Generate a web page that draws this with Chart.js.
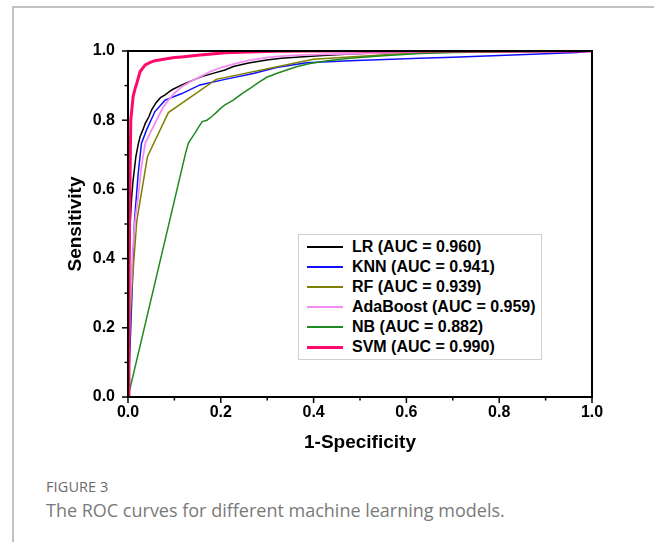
<!DOCTYPE html>
<html>
<head>
<meta charset="utf-8">
<script src="https://cdn.jsdelivr.net/npm/chart.js@4.4.1/dist/chart.umd.min.js"></script>
<style>
  body { margin: 0; background: #fff; }
  #page { position: relative; width: 654px; height: 542px; overflow: hidden; }
  #frame { position: absolute; left: 12px; top: 6px; width: 660px; height: 560px;
           border-top: 2px solid #c2c2c2; border-left: 2px solid #c2c2c2; }
  #chart { position: absolute; left: 0; top: 0; }
  #legend { position: absolute; left: 298px; top: 234px; width: 242px; height: 122px;
            border: 1px solid #d0d0d0; background: #fff; box-sizing: content-box;
            font: bold 16px "Liberation Sans", Arial, sans-serif; color: #000; padding-top: 2px; }
  #legend div { height: 20px; display: flex; align-items: center; }
  #legend span.sw { display: inline-block; width: 36px; margin: 0 9px 0 8px; }
  #caption { position: absolute; left: 46px; top: 477px; font-family: "Open Sans", sans-serif; color: #777; }
  #caption .fig { font-size: 14.5px; letter-spacing: 0.1px; color: #6a6a6a; }
  #caption .txt { font-size: 18px; margin-top: 2px; color: #7a7a7a; }
</style>
</head>
<body>
<div id="page">
  <div id="frame"></div>
  <canvas id="chart" width="654" height="470"></canvas>
  <div id="legend"></div>
  <div id="caption">
    <div class="fig">FIGURE 3</div>
    <div class="txt">The ROC curves for different machine learning models.</div>
  </div>
</div>
<script>
// model names and AUC values
const models = ['LR', 'KNN', 'RF', 'AdaBoost', 'NB', 'SVM'];
const aucs = ['0.960', '0.941', '0.939', '0.959', '0.882', '0.990'];
const colors = ['#000000', '#1010ff', '#808000', '#f58cf2', '#1f8a1f', '#ff0a6c'];
const widths = [1.5, 1.5, 1.5, 1.8, 1.5, 3];

// ROC points (false positive rate / true positive rate)
const lrFpr = [0, 0.001, 0.003, 0.005, 0.008, 0.011, 0.014, 0.017, 0.022, 0.026, 0.032, 0.037, 0.045, 0.051, 0.06, 0.07, 0.08, 0.095, 0.116, 0.135, 0.159, 0.185, 0.209, 0.227, 0.26, 0.299, 0.33, 0.37, 0.42, 0.478, 0.53, 0.586, 0.65, 0.75, 1];
const lrTpr = [0, 0.2, 0.42, 0.51, 0.58, 0.627, 0.66, 0.695, 0.73, 0.752, 0.772, 0.79, 0.81, 0.83, 0.85, 0.865, 0.873, 0.888, 0.902, 0.913, 0.926, 0.936, 0.945, 0.955, 0.965, 0.974, 0.979, 0.983, 0.987, 0.991, 0.994, 0.996, 0.998, 0.999, 1];

const knnFpr = [0, 0.006, 0.01, 0.014, 0.022, 0.029, 0.04, 0.058, 0.08, 0.116, 0.155, 0.209, 0.27, 0.32, 0.385, 0.478, 0.629, 0.7, 0.8, 0.9, 0.967, 1];
const knnTpr = [0, 0.2, 0.35, 0.51, 0.646, 0.733, 0.772, 0.825, 0.858, 0.877, 0.902, 0.918, 0.935, 0.952, 0.966, 0.972, 0.979, 0.982, 0.987, 0.992, 0.996, 1];

const rfFpr = [0, 0.003, 0.008, 0.019, 0.042, 0.087, 0.19, 0.371, 0.4, 0.52, 0.63, 1];
const rfTpr = [0, 0.17, 0.31, 0.51, 0.695, 0.822, 0.918, 0.968, 0.976, 0.986, 0.996, 1];

const adaFpr = [0, 0.004, 0.01, 0.016, 0.022, 0.029, 0.037, 0.045, 0.051, 0.058, 0.065, 0.075, 0.087, 0.1, 0.116, 0.135, 0.159, 0.18, 0.202, 0.227, 0.26, 0.299, 0.33, 0.37, 0.42, 0.478, 0.55, 0.65, 1];
const adaTpr = [0, 0.25, 0.42, 0.52, 0.579, 0.666, 0.733, 0.755, 0.772, 0.79, 0.81, 0.835, 0.858, 0.878, 0.897, 0.912, 0.928, 0.942, 0.953, 0.962, 0.973, 0.981, 0.985, 0.988, 0.99, 0.992, 0.995, 0.998, 1];

const nbFpr = [0, 0.124, 0.13, 0.137, 0.144, 0.152, 0.16, 0.17, 0.18, 0.19, 0.2, 0.209, 0.227, 0.245, 0.263, 0.28, 0.299, 0.32, 0.342, 0.365, 0.392, 0.43, 0.478, 0.55, 0.629, 0.7, 0.8, 1];
const nbTpr = [0, 0.704, 0.733, 0.748, 0.762, 0.78, 0.796, 0.8, 0.81, 0.822, 0.835, 0.844, 0.858, 0.876, 0.892, 0.908, 0.924, 0.935, 0.945, 0.955, 0.964, 0.972, 0.979, 0.986, 0.993, 0.996, 0.998, 1];

const svmFpr = [0, 0.002, 0.004, 0.006, 0.011, 0.015, 0.019, 0.026, 0.037, 0.048, 0.058, 0.08, 0.1, 0.116, 0.15, 0.21, 0.26, 0.32, 0.4, 0.6, 1];
const svmTpr = [0, 0.3, 0.6, 0.8, 0.868, 0.89, 0.907, 0.94, 0.96, 0.967, 0.972, 0.977, 0.981, 0.983, 0.988, 0.995, 0.997, 0.999, 1, 1, 1];

const fprs = [lrFpr, knnFpr, rfFpr, adaFpr, nbFpr, svmFpr];
const tprs = [lrTpr, knnTpr, rfTpr, adaTpr, nbTpr, svmTpr];

const datasets = models.map((m, i) => ({
  label: m + ' (AUC = ' + aucs[i] + ')',
  data: fprs[i].map((x, j) => ({ x: x, y: tprs[i][j] })),
  borderColor: colors[i],
  backgroundColor: colors[i],
  borderWidth: widths[i],
  showLine: true,
  pointRadius: 0,
  tension: 0,
  order: m === 'SVM' ? 0 : 6 - i
}));

// box round the plot plus major/minor tick marks
const framePlugin = {
  id: 'framePlugin',
  afterDatasetsDraw(chart) {
    const { ctx, chartArea: a, scales } = chart;
    ctx.save();
    ctx.strokeStyle = '#000';
    ctx.lineWidth = 2;
    ctx.strokeRect(a.left, a.top, a.right - a.left, a.bottom - a.top);
    ctx.lineWidth = 1.5;
    scales.x.ticks.forEach((t, i) => {
      const len = i % 2 ? 3.5 : 6;
      const px = scales.x.getPixelForValue(t.value);
      ctx.beginPath(); ctx.moveTo(px, a.bottom); ctx.lineTo(px, a.bottom + len); ctx.stroke();
    });
    scales.y.ticks.forEach((t, i) => {
      const len = i % 2 ? 3.5 : 6;
      const py = scales.y.getPixelForValue(t.value);
      ctx.beginPath(); ctx.moveTo(a.left, py); ctx.lineTo(a.left - len, py); ctx.stroke();
    });
    ctx.restore();
  }
};

const tickFont = { family: '"Liberation Sans", Arial, sans-serif', size: 16, weight: 'bold' };
const titleFont = { family: '"Liberation Sans", Arial, sans-serif', size: 19, weight: 'bold' };

new Chart(document.getElementById('chart'), {
  type: 'scatter',
  data: { datasets: datasets },
  options: {
    responsive: false,
    animation: false,
    devicePixelRatio: 1,
    layout: { padding: { left: 60, top: 51, right: 62, bottom: 12 } },
    plugins: { legend: { display: false }, tooltip: { enabled: false } },
    scales: {
      x: {
        type: 'linear', min: 0, max: 1,
        grid: { display: false, drawTicks: false },
        border: { display: false },
        ticks: { stepSize: 0.1, autoSkip: false, maxRotation: 0, padding: 6, color: '#000', font: tickFont,
                 callback: (v, i) => i % 2 ? '' : v.toFixed(1) },
        title: { display: true, text: '1-Specificity', color: '#000', font: titleFont },
        afterFit: s => { s.height = 61; }
      },
      y: {
        type: 'linear', min: 0, max: 1,
        grid: { display: false, drawTicks: false },
        border: { display: false },
        ticks: { stepSize: 0.1, autoSkip: false, padding: 13, color: '#000', font: tickFont,
                 callback: (v, i) => i % 2 ? '' : v.toFixed(1) },
        title: { display: true, text: 'Sensitivity', color: '#000', font: titleFont },
        afterFit: s => { s.width = 68; }
      }
    }
  },
  plugins: [framePlugin]
});

// legend box drawn as html, from the same arrays
const legend = document.getElementById('legend');
datasets.forEach((d, i) => {
  const row = document.createElement('div');
  const sw = document.createElement('span');
  sw.className = 'sw';
  sw.style.height = Math.round(widths[i]) + 'px';
  sw.style.background = colors[i];
  row.appendChild(sw);
  row.appendChild(document.createTextNode(d.label));
  legend.appendChild(row);
});
</script>
</body>
</html>
